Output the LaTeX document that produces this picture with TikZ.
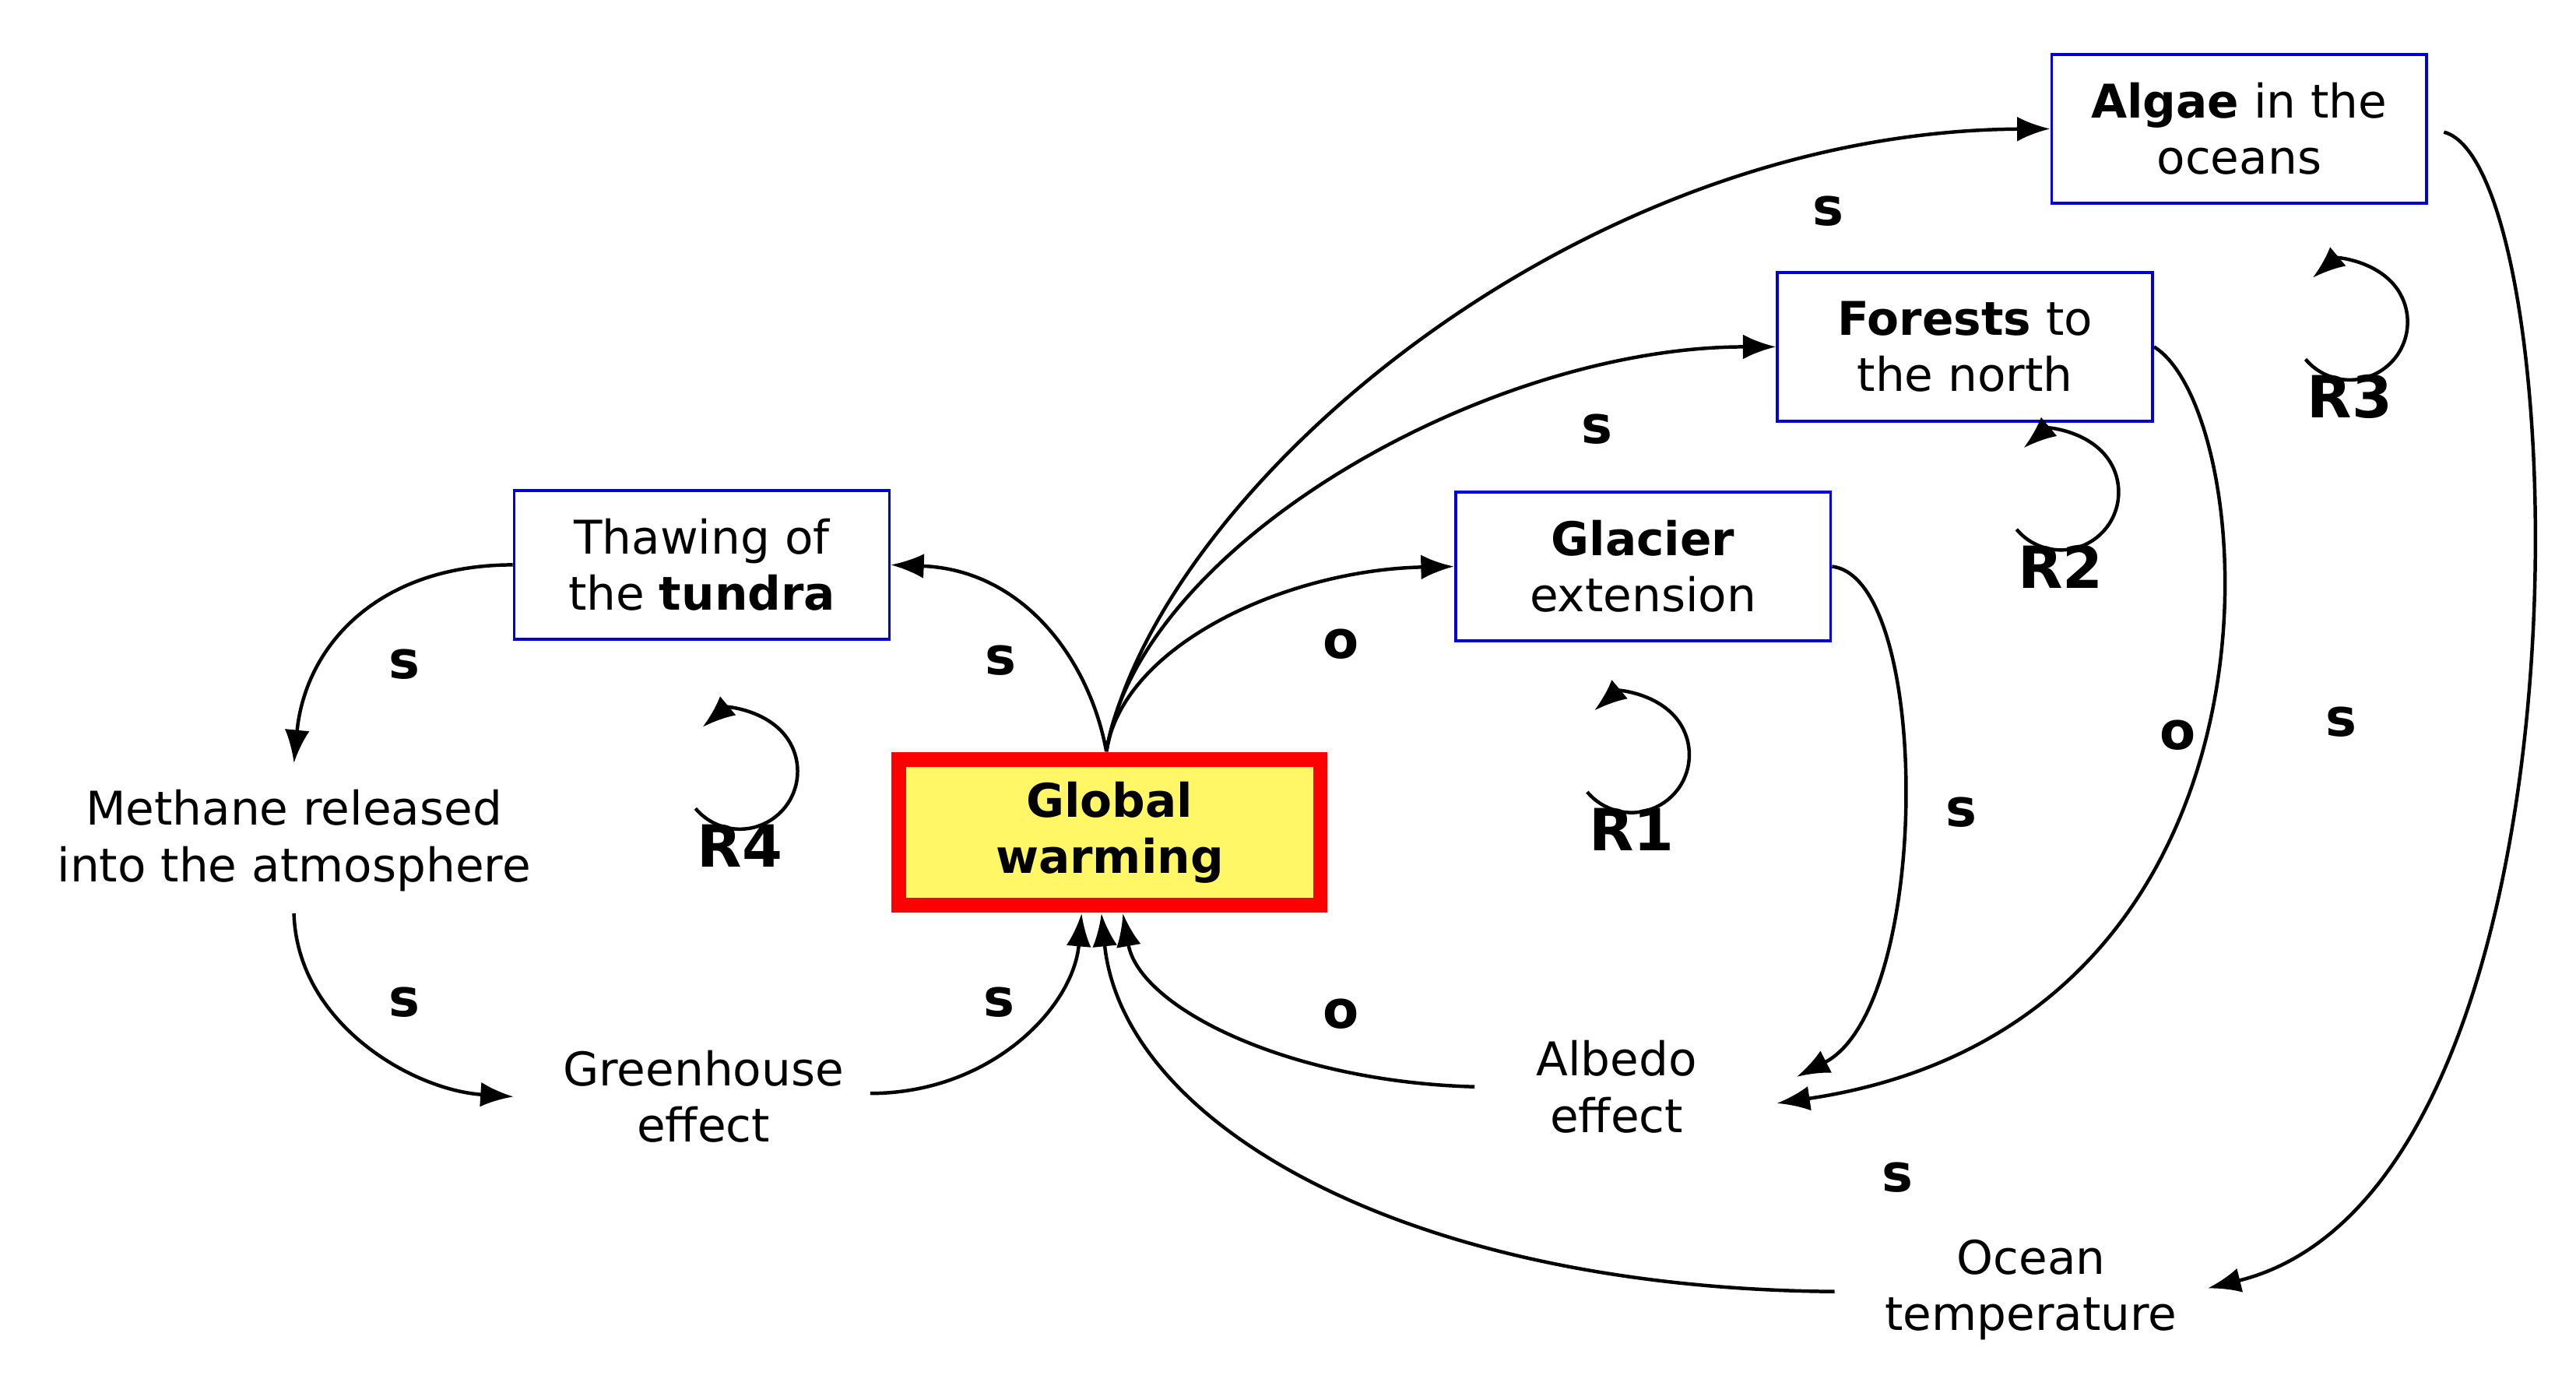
\documentclass[tikz,border=0pt]{standalone}
\usepackage{fontspec}
\setmainfont{DejaVu Sans}
\usetikzlibrary{arrows.meta}
\begin{document}
\begin{tikzpicture}[x=0.01cm,y=-0.01cm,
  every node/.style={font=\fontsize{8}{9.7}\selectfont,align=center},
  box/.style={draw=blue!85!black,line width=0.5pt,minimum width=2.27cm,minimum height=0.9cm,inner sep=0pt},
  arr/.style={-{Latex[length=2mm,width=1.5mm]},line width=0.6pt},
  lab/.style={font=\fontsize{9}{10}\selectfont\bfseries},
  loopl/.style={font=\fontsize{10}{11}\selectfont\bfseries}]
\useasboundingbox (0,0) rectangle (1560,843);
\node[box] (algae) at (1356,78) {\textbf{Algae} in the\\oceans};
\node[box] (forest) at (1190,210) {\textbf{Forests} to\\the north};
\node[box] (glacier) at (995,343) {\textbf{Glacier}\\extension};
\node[box] (thaw) at (425,342) {Thawing of\\the \textbf{tundra}};
\node[draw=red,line width=2.5pt,fill=yellow!60,minimum width=2.55cm,minimum height=0.88cm,inner sep=0pt] (gw) at (672,504) {\textbf{Global}\\\textbf{warming}};
\node (meth) at (178,509) {Methane released\\into the atmosphere};
\node (green) at (426,664) {Greenhouse\\effect};
\node (alb) at (979,658) {Albedo\\effect};
\node (ocean) at (1230,781) {Ocean\\temperature};
\coordinate (gwt) at (670,455);
\draw[arr] (gwt) .. controls (700,300) and (950,80) .. (algae.west);
\draw[arr] (gwt) .. controls (690,330) and (900,210) .. (forest.west);
\draw[arr] (gwt) .. controls (680,390) and (780,345) .. (glacier.west);
\draw[arr] (gwt) .. controls (660,400) and (620,345) .. (thaw.east);
\draw[arr] (thaw.west) .. controls (230,342) and (185,390) .. (178,462);
\draw[arr] (178,553) .. controls (180,620) and (250,660) .. (311,664);
\draw[arr] (527,662) .. controls (600,662) and (650,610) .. (655,553);
\draw[arr] (893,658) .. controls (780,655) and (690,610) .. (680,553);
\draw[arr] (1111,782) .. controls (850,780) and (680,680) .. (667,553);
\draw[arr] (glacier.east) .. controls (1170,350) and (1170,610) .. (1088,652);
\draw[arr] (forest.east) .. controls (1370,250) and (1400,620) .. (1076,668);
\draw[arr] (1480,80) .. controls (1560,100) and (1580,720) .. (1337,780);
\foreach \n/\x/\y in {R1/988/502,R2/1248/343,R3/1423/240,R4/448/512}{
  \node[loopl] at (\x,\y) {\n};
  \draw[arr] ([shift={(220:35)}]\x,\y) arc[start angle=-220,end angle=-490,radius=35];
}
\foreach \t/\x/\y in {s/1107/128,s/967/260,s/606/400,s/245/402,s/245/607,s/605/607,s/1188/492,s/1418/437,s/1149/713,o/812/390,o/1319/445,o/812/614}
  \node[lab] at (\x,\y) {\t};
\end{tikzpicture}
\end{document}
